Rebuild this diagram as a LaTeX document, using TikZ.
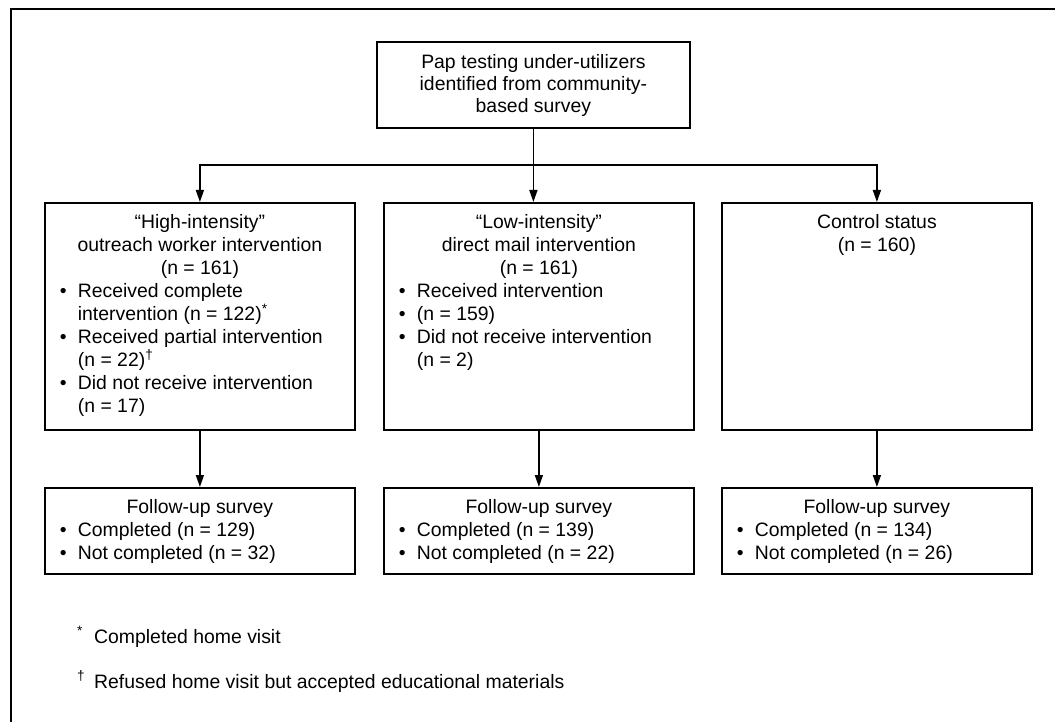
\documentclass[tikz,border=0pt]{standalone}
\usepackage{fontspec}
\setmainfont{Liberation Sans}
\usetikzlibrary{arrows.meta}
\newcommand{\bodyfont}{\fontsize{19.4}{23}\selectfont}
\newcommand{\itm}[1]{\par\hangindent=18pt\hangafter=1\noindent\makebox[18pt][l]{•}#1}
% #1 width, #2 height, #3 first baseline offset, #4 centred header, #5 bullet items
\newcommand{\boxbody}[5]{\parbox[t][#2][t]{#1}{\bodyfont\centering\rule{0pt}{#3}#4\par\raggedright\leftskip=15pt\relax #5\par}}
\tikzset{
  box/.style={draw, line width=1.8pt, inner sep=0pt, anchor=north west},
  arr/.style={line width=1.5pt, -{Triangle[length=12pt,width=8pt]}},
  frame/.style={line width=2.8pt, line join=miter},
  note/.style={anchor=base west, inner sep=0pt, font=\bodyfont},
}
\begin{document}
\begin{tikzpicture}[x=1pt,y=-1pt]
\useasboundingbox (0,0) rectangle (1055,722);
\draw[frame] (1056,9) -- (11,9) -- (11,723);

\node[box] (top) at (376,41) {\parbox[t][86pt][t]{313pt}{\fontsize{19.4}{22}\selectfont\centering\rule{0pt}{27pt}Pap testing under-utilizers\\identified from community-\\based survey\par}};

\node[box] (hi) at (44,202) {\boxbody{310pt}{227pt}{26pt}{“High-intensity”\\outreach worker intervention\\(n = 161)}{%
  \itm{Received complete\newline intervention (n = 122)\textsuperscript{*}}%
  \itm{Received partial intervention\newline (n = 22)\textsuperscript{†}}%
  \itm{Did not receive intervention\newline (n = 17)}}};

\node[box] (lo) at (383,202) {\boxbody{310pt}{227pt}{26pt}{“Low-intensity”\\direct mail intervention\\(n = 161)}{%
  \itm{Received intervention}%
  \itm{(n = 159)}%
  \itm{Did not receive intervention\newline (n = 2)}}};

\node[box] (ctrl) at (721,202) {\boxbody{310pt}{227pt}{26pt}{Control status\\(n = 160)}{}};

\node[box] (fhi) at (44,487) {\boxbody{310pt}{86pt}{26pt}{Follow-up survey}{%
  \itm{Completed (n = 129)}%
  \itm{Not completed (n = 32)}}};
\node[box] (flo) at (383,487) {\boxbody{310pt}{86pt}{26pt}{Follow-up survey}{%
  \itm{Completed (n = 139)}%
  \itm{Not completed (n = 22)}}};
\node[box] (fctrl) at (721,487) {\boxbody{310pt}{86pt}{26pt}{Follow-up survey}{%
  \itm{Completed (n = 134)}%
  \itm{Not completed (n = 26)}}};

\coordinate (split) at ([yshift=-36pt]top.south);
\draw[arr] (top.south) -- (top.south |- lo.north);
\draw[arr] (split) -| (hi.north);
\draw[arr] (split) -| (ctrl.north);
\draw[arr] (hi.south) -- (fhi.north);
\draw[arr] (lo.south) -- (flo.north);
\draw[arr] (ctrl.south) -- (fctrl.north);

\node[note] (fn1) at (77,643) {\makebox[17pt][l]{\textsuperscript{*}}Completed home visit};
\node[note] (fn2) at (77,688) {\makebox[17pt][l]{\textsuperscript{†}}Refused home visit but accepted educational materials};
\end{tikzpicture}
\end{document}
